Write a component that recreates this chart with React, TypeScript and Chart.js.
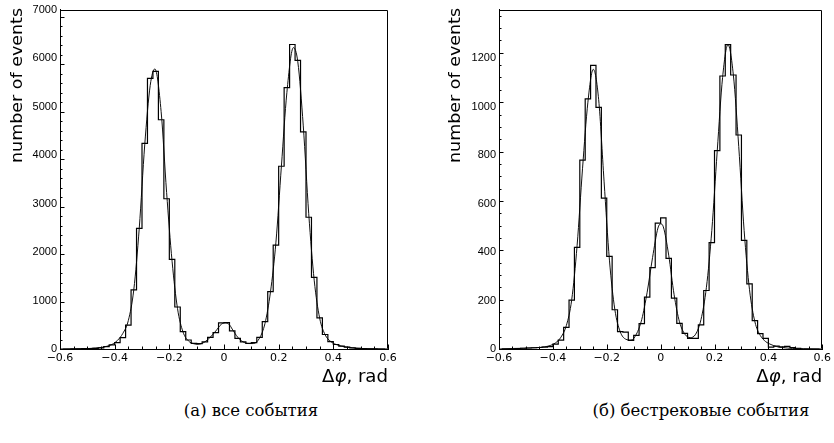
import React, { useEffect, useRef } from 'react';
import { Chart, registerables } from 'chart.js';

Chart.register(...registerables);

// ---- data ----
const binLow = -0.6;
const binWidth = 0.02;

// (а) все события — bin contents, bins of 0.02 rad from -0.6 to 0.6
const allCounts = [
  0, 0, 1, 3, 6, 9, 13, 22, 50, 85,
  135, 240, 505, 1245, 2540, 4330, 5700, 5850, 4830, 3165,
  1890, 885, 365, 190, 120, 115, 150, 245, 345, 550,
  555, 380, 225, 150, 120, 135, 245, 575, 1210, 2190,
  3850, 5505, 6415, 6080, 4575, 2775, 1510, 655, 305, 155,
  95, 60, 40, 25, 15, 8, 4, 1, 0, 0,
];
const allFitX = [
  -0.59, -0.55, -0.51, -0.49, -0.47, -0.45, -0.43, -0.41, -0.39, -0.37,
  -0.35, -0.33, -0.31, -0.29, -0.27, -0.253, -0.23, -0.21, -0.19, -0.17,
  -0.15, -0.13, -0.11, -0.095, -0.07, -0.05, -0.03, -0.01, 0.004, 0.02,
  0.03, 0.05, 0.07, 0.09, 0.107, 0.13, 0.15, 0.17, 0.19, 0.21,
  0.23, 0.254, 0.27, 0.29, 0.31, 0.33, 0.35, 0.37, 0.39, 0.41,
  0.43, 0.45, 0.47, 0.49, 0.51, 0.55, 0.59,
];
const allFitY = [
  0, 2, 7, 12, 20, 32, 55, 95, 180, 330,
  600, 1250, 2550, 4300, 5550, 5900, 5000, 3300, 1850, 850,
  360, 170, 110, 100, 150, 250, 380, 520, 549, 510,
  420, 250, 150, 115, 115, 230, 540, 1200, 2250, 3850,
  5400, 6350, 6050, 4700, 2850, 1450, 650, 300, 160, 95,
  60, 40, 25, 15, 9, 3, 0,
];

// (б) бестрековые события
const tracklessCounts = [
  0, 0, 0, 2, 3, 4, 5, 6, 8, 10,
  20, 36, 88, 198, 412, 765, 1013, 1149, 979, 611,
  375, 159, 70, 68, 35, 55, 103, 210, 330, 510,
  531, 367, 206, 104, 63, 43, 43, 98, 237, 431,
  804, 1106, 1233, 1110, 867, 440, 264, 115, 62, 43,
  8, 12, 9, 11, 6, 3, 0, 0, 0, 0,
];
const tracklessFitX = [
  -0.59, -0.55, -0.51, -0.47, -0.45, -0.43, -0.41, -0.39, -0.37, -0.35,
  -0.33, -0.31, -0.29, -0.27, -0.25, -0.23, -0.21, -0.19, -0.17, -0.15,
  -0.13, -0.11, -0.09, -0.07, -0.05, -0.03, -0.01, 0.0, 0.01, 0.03,
  0.05, 0.07, 0.09, 0.11, 0.13, 0.15, 0.17, 0.19, 0.21, 0.23,
  0.25, 0.27, 0.29, 0.31, 0.33, 0.35, 0.37, 0.39, 0.41, 0.43,
  0.45, 0.47, 0.49, 0.53, 0.59,
];
const tracklessFitY = [
  1, 2, 3, 5, 6, 9, 14, 25, 48, 95,
  200, 420, 730, 1000, 1133, 1010, 680, 360, 160, 70,
  40, 36, 60, 120, 230, 370, 490, 507, 495, 380,
  220, 110, 60, 46, 60, 120, 250, 480, 800, 1100,
  1233, 1110, 820, 480, 240, 110, 55, 30, 18, 10,
  6, 4, 2, 1, 0,
];

const xTickLabels = ['−0.6', '−0.4', '−0.2', '0', '0.2', '0.4', '0.6'];
const allYTickLabels = ['0', '1000', '2000', '3000', '4000', '5000', '6000', '7000'];
const tracklessYTickLabels = ['0', '200', '400', '600', '800', '1000', '1200'];
const yTitle = 'number of events';
const xTitleParts = ['Δ', 'φ', ', rad'];
const captions = ['(а) все события', '(б) бестрековые события'];

// ---- decoration plugin: frame, inward tick marks, axis titles ----
const decorPlugin = {
  id: 'decor',
  afterDraw(chart: any, _args: any, opts: any) {
    const { ctx, chartArea: a, scales } = chart;
    const xs = scales.x;
    const ys = scales.y;
    ctx.save();
    ctx.strokeStyle = '#000';
    ctx.lineWidth = 1;
    // top & right frame
    ctx.beginPath();
    const L = Math.round(a.left) + 0.5;
    const R = Math.round(a.right) - 0.5;
    const T = Math.round(a.top) + 0.5;
    const B = Math.round(a.bottom) - 0.5;
    ctx.moveTo(L, T);
    ctx.lineTo(R, T);
    ctx.lineTo(R, B);
    ctx.stroke();
    // y ticks (inward)
    ctx.beginPath();
    for (let v = 0; v <= opts.yMax + 1e-9; v += opts.yMinor) {
      const major = Math.abs(v / opts.yMajor - Math.round(v / opts.yMajor)) < 1e-6;
      const len = major ? 4.5 : 2.5;
      const py = Math.round(ys.getPixelForValue(v)) + 0.5;
      ctx.moveTo(a.left, py);
      ctx.lineTo(a.left + len, py);
    }
    // x ticks (inward)
    for (let k = -12; k <= 12; k++) {
      const v = k * 0.05;
      const major = k % 4 === 0;
      const len = major ? 4.5 : 2.5;
      const px = Math.round(xs.getPixelForValue(v)) + 0.5;
      ctx.moveTo(px, a.bottom);
      ctx.lineTo(px, a.bottom - len);
    }
    ctx.stroke();

    ctx.fillStyle = '#000';
    // y title (rotated, top-aligned, stretched)
    ctx.save();
    ctx.font = "15px 'DejaVu Sans', sans-serif";
    const w = ctx.measureText(yTitle).width;
    ctx.translate(opts.yTitleX, 163);
    ctx.rotate(-Math.PI / 2);
    ctx.scale(155 / w, 1);
    ctx.textBaseline = 'middle';
    ctx.textAlign = 'left';
    ctx.fillText(yTitle, 0, 0);
    ctx.restore();

    // x title, right-aligned at plot edge
    ctx.save();
    const fN = "17px 'DejaVu Sans', sans-serif";
    const fI = "italic 17px 'DejaVu Sans', sans-serif";
    const fonts = [fN, fI, fN];
    const widths = xTitleParts.map((t, i) => {
      ctx.font = fonts[i];
      return ctx.measureText(t).width;
    });
    const total = widths.reduce((s, v) => s + v, 0);
    const sx = 66 / total;
    ctx.translate(a.right - 66, 382);
    ctx.scale(sx, 1);
    ctx.textBaseline = 'alphabetic';
    ctx.textAlign = 'left';
    let cx = 0;
    xTitleParts.forEach((t, i) => {
      ctx.font = fonts[i];
      ctx.fillText(t, cx, 0);
      cx += widths[i];
    });
    ctx.restore();
    ctx.restore();
  },
};

type PanelProps = {
  left: number;
  counts: number[];
  fitX: number[];
  fitY: number[];
  yMax: number;
  yMajor: number;
  yMinor: number;
  yLabels: string[];
  plotLeft: number;
  padRight: number;
  yTitleX: number;
};

function Panel(p: PanelProps) {
  const ref = useRef<HTMLCanvasElement | null>(null);
  useEffect(() => {
    if (!ref.current) return;
    const hist = p.counts.map((c, i) => ({ x: binLow + i * binWidth, y: c }));
    hist.push({ x: binLow + p.counts.length * binWidth, y: p.counts[p.counts.length - 1] });
    const fit = p.fitX.map((x, i) => ({ x, y: p.fitY[i] }));
    const chart = new Chart(ref.current, {
      type: 'line',
      data: {
        datasets: [
          {
            data: hist,
            stepped: true,
            borderColor: '#000',
            borderWidth: 1.2,
            pointRadius: 0,
            fill: false,
          },
          {
            data: fit,
            borderColor: '#111',
            borderWidth: 1,
            pointRadius: 0,
            cubicInterpolationMode: 'monotone',
            fill: false,
          },
        ],
      },
      options: {
        responsive: false,
        animation: false,
        devicePixelRatio: 1,
        layout: { autoPadding: false, padding: { left: 0, top: 6, right: p.padRight, bottom: 0 } },
        plugins: {
          legend: { display: false },
          tooltip: { enabled: false },
          decor: { yMax: p.yMax, yMajor: p.yMajor, yMinor: p.yMinor, yTitleX: p.yTitleX },
        } as any,
        scales: {
          x: {
            type: 'linear',
            min: -0.6,
            max: 0.6,
            afterFit: (s: any) => {
              s.height = 51;
            },
            grid: { display: false, drawTicks: false },
            border: { display: true, color: '#000', width: 1 },
            ticks: {
              stepSize: 0.2,
              autoSkip: false,
              maxRotation: 0,
              padding: 3,
              color: '#000',
              font: { family: "'DejaVu Sans', sans-serif", size: 11 },
              callback: (_v: any, i: number) => xTickLabels[i],
            },
          },
          y: {
            type: 'linear',
            min: 0,
            max: p.yMax,
            afterFit: (s: any) => {
              s.width = p.plotLeft;
            },
            grid: { display: false, drawTicks: false },
            border: { display: true, color: '#000', width: 1 },
            ticks: {
              stepSize: p.yMajor,
              includeBounds: false,
              autoSkip: false,
              padding: 3,
              color: '#000',
              font: { family: "'Liberation Sans', sans-serif", size: 11 },
              callback: (_v: any, i: number) => p.yLabels[i],
            },
          },
        },
      } as any,
      plugins: [decorPlugin],
    });
    return () => chart.destroy();
  }, []);
  return (
    <div style={{ position: 'absolute', left: p.left, top: 0, width: 417, height: 400 }}>
      <canvas ref={ref} width={417} height={400} style={{ display: 'block', width: 417, height: 400 }} />
    </div>
  );
}

const captionStyle: React.CSSProperties = {
  position: 'absolute',
  top: 401,
  width: 400,
  height: 20,
  lineHeight: '20px',
  textAlign: 'center',
  fontFamily: "'DejaVu Serif', serif",
  fontSize: 16.5,
  color: '#000',
  whiteSpace: 'nowrap',
};

export default function App() {
  return (
    <div
      style={{
        position: 'absolute',
        left: 0,
        top: 0,
        width: 834,
        height: 443,
        background: '#fff',
        overflow: 'hidden',
      }}
    >
      <Panel
        left={0}
        counts={allCounts}
        fitX={allFitX}
        fitY={allFitY}
        yMax={7150}
        yMajor={1000}
        yMinor={200}
        yLabels={allYTickLabels}
        plotLeft={60}
        padRight={29}
        yTitleX={18}
      />
      <Panel
        left={417}
        counts={tracklessCounts}
        fitX={tracklessFitX}
        fitY={tracklessFitY}
        yMax={1375}
        yMajor={200}
        yMinor={50}
        yLabels={tracklessYTickLabels}
        plotLeft={82}
        padRight={7}
        yTitleX={39}
      />
      <div style={{ ...captionStyle, left: 251 - 200 }}>{captions[0]}</div>
      <div style={{ ...captionStyle, left: 701 - 200 }}>{captions[1]}</div>
    </div>
  );
}
